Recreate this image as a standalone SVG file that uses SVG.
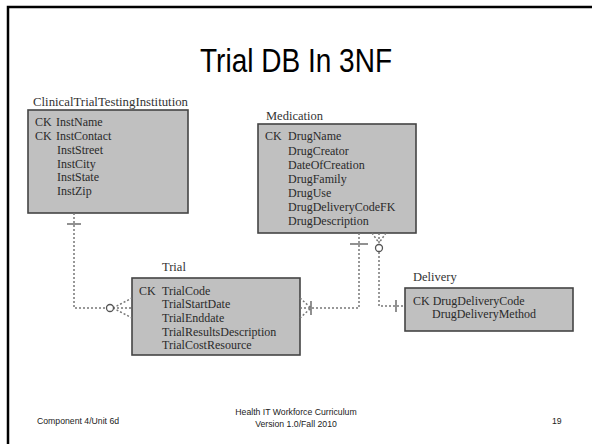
<svg xmlns="http://www.w3.org/2000/svg" width="592" height="444" viewBox="0 0 592 444">
<style>
.frame{stroke:#000;stroke-width:2.5;fill:none}
.box{fill:#c0c0c0;stroke:#444;stroke-width:1.6}
.lbl{font-family:"Liberation Serif",serif;font-size:12.5px;fill:#333}
.fld{font-family:"Liberation Serif",serif;font-size:12px;fill:#2a2a2a}
.title{font-family:"Liberation Sans",Arial,sans-serif;font-size:33px;fill:#000}
.foot{font-family:"Liberation Sans",Arial,sans-serif;font-size:8.7px;fill:#222}
.dot{stroke:#777;stroke-width:1.5;fill:none;stroke-dasharray:2 2}
.solid{stroke:#555;stroke-width:1.3;fill:none}
.circ{stroke:#555;stroke-width:1.3;fill:#fff}
</style>
<rect width="592" height="444" fill="#fff"/>
<path class="frame" d="M8,444 V7 H592"/>
<text class="title" x="296" y="72" text-anchor="middle" textLength="192" lengthAdjust="spacingAndGlyphs">Trial DB In 3NF</text>

<g id="institution">
<text class="lbl" x="33" y="106" textLength="155" lengthAdjust="spacingAndGlyphs">ClinicalTrialTestingInstitution</text>
<rect class="box" x="28" y="110" width="160" height="103"/>
<text class="fld" x="35" y="126">CK</text><text class="fld" x="56" y="126">InstName</text>
<text class="fld" x="35" y="140">CK</text><text class="fld" x="56" y="140">InstContact</text>
<text class="fld" x="57" y="154">InstStreet</text>
<text class="fld" x="57" y="168">InstCity</text>
<text class="fld" x="57" y="181">InstState</text>
<text class="fld" x="57" y="195">InstZip</text>
</g>

<g id="medication">
<text class="lbl" x="266" y="120">Medication</text>
<rect class="box" x="258" y="124" width="158" height="109"/>
<text class="fld" x="265" y="140">CK</text><text class="fld" x="288" y="140">DrugName</text>
<text class="fld" x="288" y="155">DrugCreator</text>
<text class="fld" x="288" y="169">DateOfCreation</text>
<text class="fld" x="288" y="183">DrugFamily</text>
<text class="fld" x="288" y="197">DrugUse</text>
<text class="fld" x="288" y="211">DrugDeliveryCodeFK</text>
<text class="fld" x="288" y="225">DrugDescription</text>
</g>

<g id="trial">
<text class="lbl" x="162" y="271">Trial</text>
<rect class="box" x="132" y="278" width="168" height="77"/>
<text class="fld" x="139" y="295">CK</text><text class="fld" x="162" y="295">TrialCode</text>
<text class="fld" x="162" y="308">TrialStartDate</text>
<text class="fld" x="162" y="322">TrialEnddate</text>
<text class="fld" x="162" y="336">TrialResultsDescription</text>
<text class="fld" x="162" y="349">TrialCostResource</text>
</g>

<g id="delivery">
<text class="lbl" x="413" y="281">Delivery</text>
<rect class="box" x="405" y="288" width="168" height="43"/>
<text class="fld" x="413" y="305">CK DrugDeliveryCode</text>
<text class="fld" x="432" y="318">DrugDeliveryMethod</text>
</g>

<g id="connectors">
<path class="dot" d="M74,213 V308 H106"/>
<line class="solid" x1="67" y1="224" x2="81" y2="224"/>
<path class="dot" d="M113,308 L132,298 M113,308 L132,308 M113,308 L132,318"/>
<circle class="circ" cx="110" cy="308" r="3.5"/>

<path class="dot" d="M300,308 H359 V233"/>
<path class="dot" d="M300,298 L311,308 L300,318"/>
<line class="solid" x1="311" y1="301" x2="311" y2="315"/>
<line class="solid" x1="350" y1="244" x2="368" y2="244"/>

<path class="dot" d="M372,233 L379,243 M379,233 L379,243 M386,233 L379,243"/>
<circle class="circ" cx="379" cy="248" r="3.5"/>
<path class="dot" d="M379,252 V306 H405"/>
<line class="solid" x1="396" y1="300" x2="396" y2="312"/>
</g>

<g id="footer">
<text class="foot" x="37" y="424">Component 4/Unit 6d</text>
<text class="foot" x="296" y="415" text-anchor="middle">Health IT Workforce Curriculum</text>
<text class="foot" x="296" y="427" text-anchor="middle">Version 1.0/Fall 2010</text>
<text class="foot" x="552" y="424">19</text>
</g>
</svg>
